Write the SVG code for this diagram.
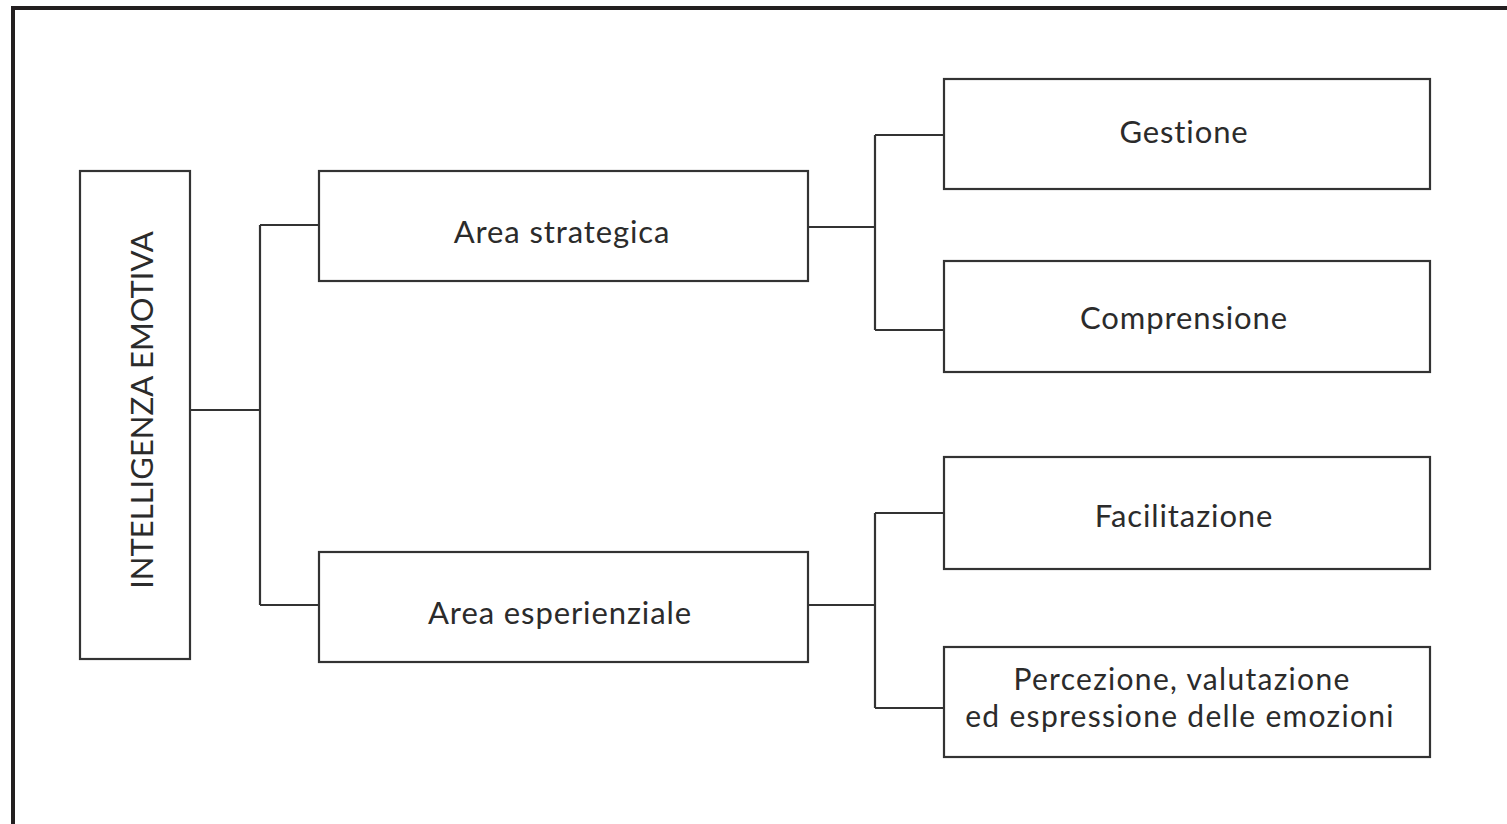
<svg xmlns="http://www.w3.org/2000/svg" width="1507" height="824" viewBox="0 0 1507 824">
<style>
.frame{fill:none;stroke:#231f20;stroke-width:4}
.box{fill:#fff;stroke:#333;stroke-width:2.2}
.con{fill:none;stroke:#333;stroke-width:2.2}
.t{font-family:Lato,"Open Sans",sans-serif;font-size:31px;fill:#2b2b2b;text-anchor:middle;font-variant-ligatures:none;letter-spacing:0.9px}
.cap{letter-spacing:0}
.t2{font-size:30px;letter-spacing:1.3px}
</style>
<rect width="1507" height="824" fill="#fff"/>
<rect class="frame" x="13" y="8" width="1510" height="830"/>
<g id="connectors">
<path class="con" d="M190,410 H260 M260,225 V605 M260,225 H319 M260,605 H319"/>
<path class="con" d="M808,227 H875 M875,135 V330 M875,135 H944 M875,330 H944"/>
<path class="con" d="M808,605 H875 M875,513 V708 M875,513 H944 M875,708 H944"/>
</g>
<g id="intelligenza">
<rect class="box" x="80" y="171" width="110" height="488"/>
<text class="t cap" transform="translate(153,410) rotate(-90)">INTELLIGENZA EMOTIVA</text>
</g>
<g id="strategica">
<rect class="box" x="319" y="171" width="489" height="110"/>
<text class="t" x="562" y="243">Area strategica</text>
</g>
<g id="esperienziale">
<rect class="box" x="319" y="552" width="489" height="110"/>
<text class="t" x="560" y="624">Area esperienziale</text>
</g>
<g id="gestione">
<rect class="box" x="944" y="79" width="486" height="110"/>
<text class="t" x="1184" y="143">Gestione</text>
</g>
<g id="comprensione">
<rect class="box" x="944" y="261" width="486" height="111"/>
<text class="t" x="1184" y="329">Comprensione</text>
</g>
<g id="facilitazione">
<rect class="box" x="944" y="457" width="486" height="112"/>
<text class="t" x="1184" y="527">Facilitazione</text>
</g>
<g id="percezione">
<rect class="box" x="944" y="647" width="486" height="110"/>
<text class="t t2" x="1182" y="690">Percezione, valutazione</text>
<text class="t t2" x="1180" y="726.5">ed espressione delle emozioni</text>
</g>
</svg>
